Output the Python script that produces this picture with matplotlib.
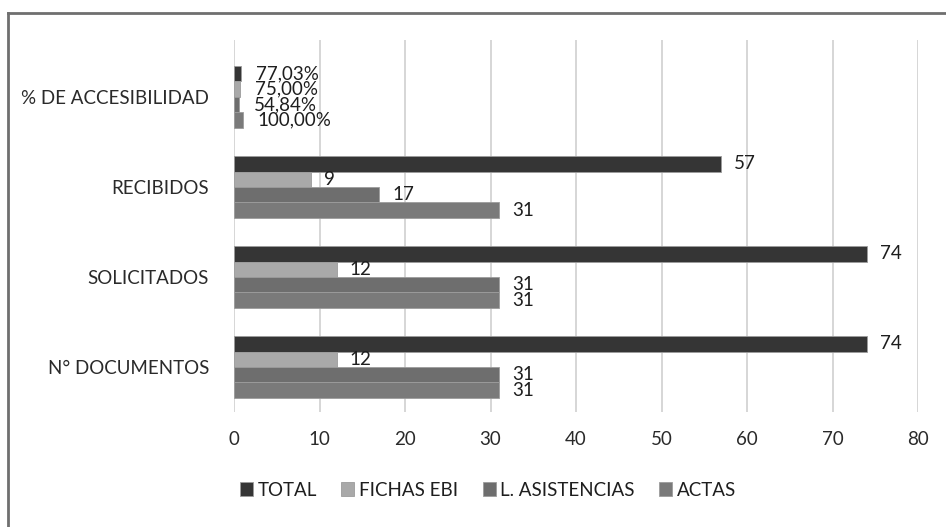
import matplotlib
matplotlib.use("Agg")
import matplotlib.pyplot as plt
import numpy as np
from matplotlib.lines import Line2D

categories = ["N° DOCUMENTOS", "SOLICITADOS", "RECIBIDOS", "% DE ACCESIBILIDAD"]
series_names = ["TOTAL", "FICHAS EBI", "L. ASISTENCIAS", "ACTAS"]
total = [74, 74, 57, 0.7703]
fichas = [12, 12, 9, 0.75]
asistencias = [31, 31, 17, 0.5484]
actas = [31, 31, 31, 1.00]
labels_total = ["74", "74", "57", "77,03%"]
labels_fichas = ["12", "12", "9", "75,00%"]
labels_asist = ["31", "31", "17", "54,84%"]
labels_actas = ["31", "31", "31", "100,00%"]
xticks = [0, 10, 20, 30, 40, 50, 60, 70, 80]

colors = ["#353535", "#a9a9a9", "#6e6e6e", "#7a7a7a"]
values = [total, fichas, asistencias, actas]
labels = [labels_total, labels_fichas, labels_asist, labels_actas]

plt.rcParams['font.family'] = ['Lato', 'DejaVu Sans']

fig = plt.figure(figsize=(9.46, 5.27), dpi=100)
ax = fig.add_axes([234/946, 1-412/527, 684/946, 372/527])

y = np.arange(len(categories))
h = 0.172
offsets = [1.5*h, 0.5*h, -0.5*h, -1.5*h]
for vals, col, off, name, labs in zip(values, colors, offsets, series_names, labels):
    bars = ax.barh(y + off, vals, height=h, color=col, edgecolor="#9c9c9c",
                   linewidth=0.6, label=name, zorder=3)
    for b, lab in zip(bars, labs):
        pad = 15 if lab.endswith("%") else 13
        ax.annotate(lab, (b.get_width(), b.get_y() + b.get_height()/2),
                    xytext=(pad, 0), textcoords="offset pixels",
                    va="center", ha="left", fontsize=13.5, color="#1e1e1e", zorder=4)

ax.set_xlim(0, 80)
ax.set_ylim(-0.5, 3.633)
ax.set_xticks(xticks)
ax.set_xticklabels([str(t) for t in xticks])
ax.set_yticks(y)
ax.set_yticklabels(categories)
ax.tick_params(axis="both", length=0, labelsize=13.5, colors="#2a2a2a")
ax.tick_params(axis="x", pad=14)
ax.tick_params(axis="y", pad=18)
ax.grid(axis="x", color="#cfcfcf", linewidth=1.2, zorder=0)
for s in ax.spines.values():
    s.set_visible(False)

leg = fig.legend(loc="center", bbox_to_anchor=(488/946, 1-490/527), ncol=4,
                 frameon=False, fontsize=13.5, handlelength=0.7, handleheight=0.7,
                 handletextpad=0.25, columnspacing=1.3, labelcolor="#1e1e1e")

fig.add_artist(Line2D([8/946, 8/946], [0, 1-13/527], color="#6f6f6f", linewidth=2,
                      transform=fig.transFigure))
fig.add_artist(Line2D([8/946, 1], [1-13/527, 1-13/527], color="#6f6f6f", linewidth=2,
                      transform=fig.transFigure))

fig.savefig("out.png", dpi=100, facecolor="white")
